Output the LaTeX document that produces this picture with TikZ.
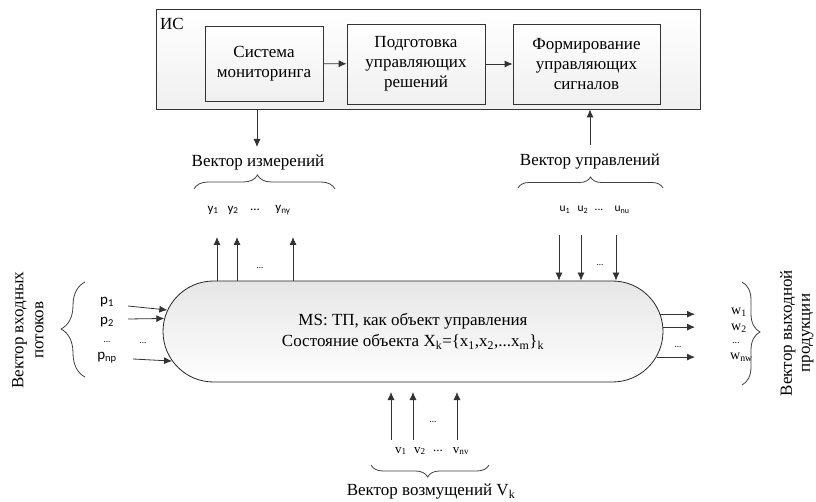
\documentclass[tikz,border=0pt]{standalone}
\usepackage{fontspec}
\setmainfont{Liberation Serif}
\newfontfamily\lblsans{Carlito}
\usetikzlibrary{arrows.meta,shapes.misc,decorations.pathreplacing}
\begin{document}
\begin{tikzpicture}[x=1pt,y=-1pt,
  line/.style={draw=black!80, line width=0.8pt},
  arr/.style={line, -{Latex[length=8pt,width=7pt]}},
  box/.style={draw=black!80, line width=0.8pt, top color=white, bottom color=gray!12, align=center, font=\rmfamily\fontsize{17}{20}\selectfont, inner sep=0pt},
  brc/.style={draw=black!75, line width=0.8pt, decorate},
  txt/.style={font=\rmfamily\fontsize{17}{20}\selectfont, inner sep=0pt},
  sm/.style={font=\lblsans\fontsize{13}{15}\selectfont, inner sep=0pt},
  smu/.style={font=\lblsans\fontsize{11.5}{13}\selectfont, inner sep=0pt},
  smp/.style={font=\lblsans\fontsize{15}{17}\selectfont, inner sep=0pt},
  smr/.style={font=\rmfamily\fontsize{14}{16}\selectfont, inner sep=0pt},
  smv/.style={font=\rmfamily\fontsize{13}{15}\selectfont, inner sep=0pt},
  dots/.style={font=\lblsans\fontsize{9}{10}\selectfont, inner sep=0pt},
]
\useasboundingbox (0,0) rectangle (816,502);

% IS block
\node[box, minimum width=544pt, minimum height=100pt] (is) at (428,59) {};
\node[txt] (isl) at (172,24) {ИС};
\node[box, minimum width=118pt, minimum height=75pt] (b1) at (264,63.5) {Система\\мониторинга};
\node[box, minimum width=138pt, minimum height=80pt] (b2) at (416,64) {Подготовка\\управляющих\\решений};
\node[box, minimum width=147pt, minimum height=80pt] (b3) at (586.5,64) {Формирование\\управляющих\\сигналов};
\draw[arr] (b1) -- (b2);
\draw[arr] (b2) -- (b3);

% main object
\node[rounded rectangle, draw=black!85, line width=0.8pt, top color=gray!20, bottom color=white,
      minimum width=500pt, minimum height=101pt, align=center, txt] (ms) at (413,331.5)
  {MS: ТП, как объект управления\\[1pt]Состояние объекта X\textsubscript{k}=\{x\textsubscript{1},x\textsubscript{2},...x\textsubscript{m}\}\textsubscript{k}};

% measurement vector
\node[txt] (vm) at (258,162) {Вектор измерений};
\coordinate (ism) at (257,147);
\draw[arr] (ism |- is.south) -- (ism);
\coordinate (bm1) at (194,189);
\coordinate (bm2) at (335,189);
\draw[brc, decoration={brace, amplitude=14pt, aspect=0.45}] (bm1) -- (bm2);
\node[sm] (y1) at (213,210) {y\textsubscript{1}};
\node[sm] (y2) at (233,210) {y\textsubscript{2}};
\node[sm] (yd) at (255,210) {...};
\node[sm] (yn) at (283,210) {y\textsubscript{ny}};
\coordinate (y1t) at (217,237);
\coordinate (y2t) at (237,237);
\coordinate (ynt) at (293,237);
\draw[arr] (y1t |- ms.north) -- (y1t);
\draw[arr] (y2t |- ms.north) -- (y2t);
\draw[arr] (ynt |- ms.north) -- (ynt);
\node[dots] (yd2) at (260,268) {...};

% control vector
\node[txt] (vu) at (590,162) {Вектор управлений};
\coordinate (isu) at (590,145);
\draw[arr] (isu) -- (isu |- is.south);
\coordinate (bu1) at (518,188);
\coordinate (bu2) at (663,188);
\draw[brc, decoration={brace, amplitude=11pt, aspect=0.5}] (bu1) -- (bu2);
\node[smu] (u1) at (565,210) {u\textsubscript{1}};
\node[smu] (u2) at (583,210) {u\textsubscript{2}};
\node[smu] (ud) at (599,210) {...};
\node[smu] (un) at (622,210) {u\textsubscript{nu}};
\coordinate (u1s) at (559,235);
\coordinate (u2s) at (581,235);
\coordinate (uns) at (616,235);
\draw[arr] (u1s) -- (u1s |- ms.north);
\draw[arr] (u2s) -- (u2s |- ms.north);
\draw[arr] (uns) -- (uns |- ms.north);
\node[dots] (ud2) at (600,265) {...};

% input flows
\node[smp] (p1) at (107,302) {p\textsubscript{1}};
\node[smp] (p2) at (107,322) {p\textsubscript{2}};
\node[dots] (pd) at (107,342) {...};
\node[smp] (pn) at (107,358) {p\textsubscript{np}};
\coordinate (p1s) at (128,306);
\coordinate (p2s) at (128,319);
\coordinate (pns) at (133,359);
\draw[arr] (p1s) -- (ms.175);
\draw[arr] (p2s) -- (ms.177.4);
\draw[arr] (pns) -- (ms.187.2);
\node[dots] (pd2) at (143,343) {...};
\coordinate (bp1) at (85,377);
\coordinate (bp2) at (85,282);
\draw[brc, decoration={brace, amplitude=24pt, aspect=0.505}] (bp1) -- (bp2);
\node[txt, rotate=90, align=center] (vin) at (28,330) {Вектор входных\\потоков};

% output products
\coordinate (we) at (695,0);
\draw[arr] (ms.4.3) -- (ms.4.3 -| we);
\draw[arr] (ms.1.5) -- (ms.1.5 -| we);
\draw[arr] (ms.354.8) -- (ms.354.8 -| we);
\node[dots] (wd2) at (678,347) {...};
\node[smr, anchor=west] (w1) at (731,312) {w\textsubscript{1}};
\node[smr, anchor=west] (w2) at (731,328) {w\textsubscript{2}};
\node[smr, anchor=west, font=\rmfamily\fontsize{10}{12}\selectfont] (wd) at (732,343) {...};
\node[smr, anchor=west] (wn) at (730,357) {w\textsubscript{nw}};
\coordinate (bw1) at (742,282);
\coordinate (bw2) at (742,385);
\draw[brc, decoration={brace, amplitude=18pt, aspect=0.485}] (bw1) -- (bw2);
\node[txt, rotate=90, align=center, font=\rmfamily\fontsize{17}{18}\selectfont] (vout) at (797,333) {Вектор выходной\\продукции};

% disturbances
\coordinate (v1s) at (391,440);
\coordinate (v2s) at (413,440);
\coordinate (vns) at (457,440);
\draw[arr] (v1s) -- (391,392);
\draw[arr] (v2s) -- (413,392);
\draw[arr] (vns) -- (457,392);
\node[dots] (vd2) at (433,422) {...};
\node[smv] (v1) at (401,451) {v\textsubscript{1}};
\node[smv] (v2) at (420,451) {v\textsubscript{2}};
\node[smv] (vd) at (438,451) {...};
\node[smv] (vn) at (461,451) {v\textsubscript{nv}};
\coordinate (bv1) at (371,465);
\coordinate (bv2) at (489,465);
\draw[brc, decoration={brace, amplitude=12pt, aspect=0.48, mirror}] (bv1) -- (bv2);
\node[txt] (vv) at (431,492) {Вектор возмущений V\textsubscript{k}};
\end{tikzpicture}
\end{document}
